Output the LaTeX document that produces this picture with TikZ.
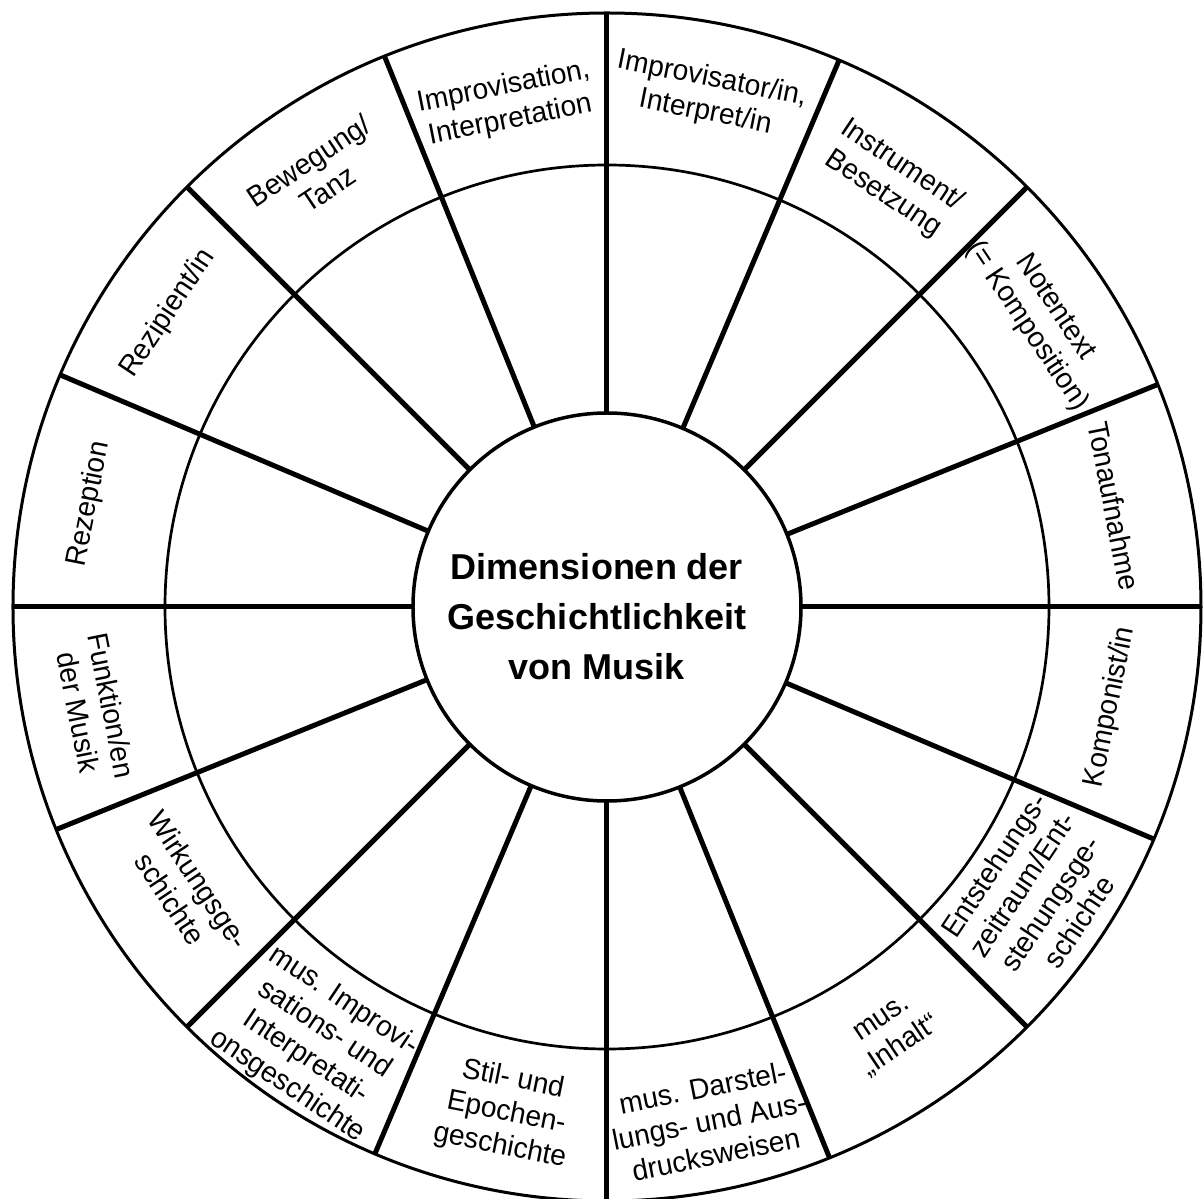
\documentclass[tikz,border=0pt]{standalone}
\usepackage{fontspec}
\setmainfont{Liberation Sans}
\newfontfamily\narrowfont{Liberation Sans}[FakeStretch=0.97]
\usepackage{tikz}

\begin{document}
\begin{tikzpicture}[x=1pt, y=1pt,
    ring/.style={draw, circle, inner sep=0pt, outer sep=0pt, line width=3pt},
    spoke/.style={line width=5pt},
    sector/.style={
    align=center,
    inner sep=0pt,
    font=\narrowfont\fontsize{29}{34}\selectfont},
    title/.style={align=center, font=\bfseries\fontsize{36}{50}\selectfont}]
    \useasboundingbox (-607,-592) rectangle (596,607);

    \node [ring, minimum size=1188pt] (Outer) at (0,0) {};
    \node [ring, minimum size=884pt, line width=2.7pt] (Middle) at (0,0) {};
    \node [ring, minimum size=388pt, line width=3.5pt] (Core) at (0,0) {};
    \node [title] (Title) at ([shift={(-10,-10)}]Core.center) {Dimensionen der\\Geschichtlichkeit\\von Musik};

    \draw[spoke] (Core.0)     -- (Outer.0);
    \draw[spoke] (Core.22.5)  -- (Outer.22.5);
    \draw[spoke] (Core.45)    -- (Outer.45);
    \draw[spoke] (Core.67.5)  -- (Outer.67.5);
    \draw[spoke] (Core.90)    -- (Outer.90);
    \draw[spoke] (Core.112.5) -- (Outer.112.5);
    \draw[spoke] (Core.135)   -- (Outer.135);
    \draw[spoke] (Core.157.5) -- (Outer.157.5);
    \draw[spoke] (Core.180)   -- (Outer.180);
    \draw[spoke] (Core.202.5) -- (Outer.202.5);
    \draw[spoke] (Core.225)   -- (Outer.225);
    \draw[spoke] (Core.247.5) -- (Outer.247.5);
    \draw[spoke] (Core.270)   -- (Outer.270);
    \draw[spoke] (Core.292.5) -- (Outer.292.5);
    \draw[spoke] (Core.315)   -- (Outer.315);
    \draw[spoke] (Core.337.5) -- (Outer.337.5);

    \node [sector, rotate=11.25]  (Improvisation) at (101.25:513) {Improvisation,\\Interpretation};
    \node [sector, rotate=-11.25] (Interpret)     at (78.75:521)  {Improvisator/in,\\Interpret/in};
    \node [sector, rotate=-33.75] (Instrument)    at (56.25:514)  {Instrument/\\Besetzung};
    \node [sector, rotate=-56.25] (Notentext)     at (33.75:522)  {Notentext\\(= Komposition)};
    \node [sector, rotate=-78.75] (Tonaufnahme)   at (11.25:517)  {Tonaufnahme};
    \node [sector, rotate=78.75]  (Komponist)     at (348.75:513) {Komponist/in};
    \node [sector, rotate=56.25]  (Entstehung)    at (326.25:516) {Entstehungs-\\zeitraum/Ent-\\stehungsge-\\schichte};
    \node [sector, rotate=33.75]  (Inhalt)        at (303.75:513) {mus.\\„Inhalt“};
    \node [sector, rotate=11.25]  (Darstellung)   at (281.25:524) {mus. Darstel-\\lungs- und Aus-\\drucksweisen};
    \node [sector, rotate=-11.25] (Stil)          at (258.75:516) {Stil- und\\Epochen-\\geschichte};
    \node [sector, rotate=-33.75] (ImproGesch)    at (236.25:525) {mus. Improvi-\\sations- und\\Interpretati-\\onsgeschichte};
    \node [sector, rotate=-56.25] (Wirkung)       at (213.75:508) {Wirkungsge-\\schichte};
    \node [sector, rotate=-78.75] (Funktion)      at (191.25:522) {Funktion/en\\der Musik};
    \node [sector, rotate=78.75]  (Rezeption)     at (168.75:528) {Rezeption};
    \node [sector, rotate=56.25]  (Rezipient)     at (146.25:528) {Rezipient/in};
    \node [sector, rotate=33.75]  (Bewegung)      at (123.75:520) {Bewegung/\\Tanz};
\end{tikzpicture}
\end{document}
